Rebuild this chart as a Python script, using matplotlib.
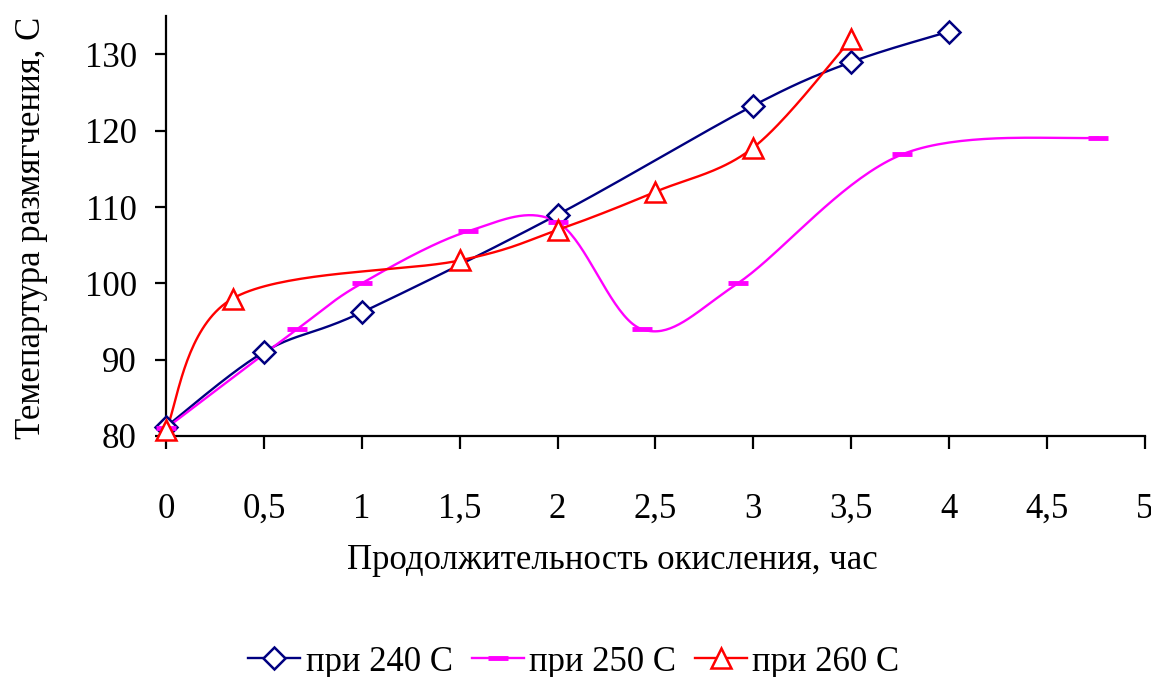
import numpy as np
import matplotlib
matplotlib.use("Agg")
import matplotlib.pyplot as plt
from matplotlib.ticker import MultipleLocator, FuncFormatter
from matplotlib.lines import Line2D

# данные
t_240 = [0, 0.5, 1, 2, 3, 3.5, 4]
temp_240 = [81.2, 91.0, 96.2, 109.0, 123.3, 129.0, 133.0]

t_250 = [0, 0.67, 1.0, 1.54, 2.0, 2.43, 2.92, 3.76, 4.76]
temp_250 = [81.0, 94.0, 100.0, 106.8, 108.0, 94.0, 100.0, 116.9, 119.1]

t_260 = [0, 0.34, 1.5, 2.0, 2.5, 3.0, 3.5]
temp_260 = [80.8, 98.0, 103.0, 107.0, 112.0, 117.8, 132.0]

labels = ["при 240 С", "при 250 С", "при 260 С"]
colors = ["#000080", "#FF00FF", "#FF0000"]


def smooth(x, y, n=40):
    # сглаживание как в Excel (кубические Безье, Catmull-Rom)
    p = np.column_stack([x, y]).astype(float)
    ext = np.vstack([p[0], p, p[-1]])
    out = [p[0]]
    s = np.linspace(0, 1, n)[1:, None]
    for i in range(len(p) - 1):
        p0, p1 = ext[i + 1], ext[i + 2]
        c1 = p0 + (ext[i + 2] - ext[i]) / 6
        c2 = p1 - (ext[i + 3] - ext[i + 1]) / 6
        seg = (1 - s) ** 3 * p0 + 3 * (1 - s) ** 2 * s * c1 + 3 * (1 - s) * s ** 2 * c2 + s ** 3 * p1
        out.extend(seg)
    out = np.array(out)
    return out[:, 0], out[:, 1]


plt.rcParams["font.family"] = ["Liberation Serif", "DejaVu Serif"]
plt.rcParams["font.size"] = 25

fig = plt.figure(figsize=(11.51, 6.77), dpi=100)
ax = fig.add_axes([0.1442, 0.356, 0.8506, 0.62])

series = [(t_240, temp_240, "D", dict(markersize=11, markerfacecolor="white", markeredgewidth=1.8)),
          (t_250, temp_250, "_", dict(markersize=14, markeredgewidth=3.5)),
          (t_260, temp_260, "^", dict(markersize=14, markerfacecolor="white", markeredgewidth=1.8))]

handles = []
for (x, y, m, mk), c, lab in zip(series, colors, labels):
    sx, sy = smooth(x, y)
    ax.plot(sx, sy, color=c, lw=1.7, zorder=2)
    ax.plot(x, y, linestyle="none", marker=m, color=c, zorder=3, clip_on=False, **mk)
    handles.append(Line2D([0], [0], color=c, lw=1.7, marker=m, **mk))

ax.set_xlim(0, 5)
ax.set_ylim(80, 135)
ax.xaxis.set_major_locator(MultipleLocator(0.5))
ax.xaxis.set_major_formatter(FuncFormatter(lambda v, p: f"{v:g}".replace(".", ",")))
ax.set_yticks([80, 90, 100, 110, 120, 130])

for side in ["top", "right"]:
    ax.spines[side].set_visible(False)
for side in ["left", "bottom"]:
    ax.spines[side].set_linewidth(1.6)

ax.tick_params(axis="x", direction="out", length=9, width=1.6, pad=32)
ax.tick_params(axis="y", direction="out", length=8, width=1.6, pad=13)

ax.set_xlabel("Продолжительность окисления, час")
ax.set_ylabel("Темепартура размягчения, С")
ax.xaxis.set_label_coords(0.456, -0.257)
ax.yaxis.set_label_coords(-0.121, 0.495)

fig.legend(handles=handles, labels=labels, loc="center", bbox_to_anchor=(0.4987, 0.022),
           ncol=3, frameon=False, handlelength=1.5, handletextpad=0.15, columnspacing=0.55,
           borderaxespad=0, borderpad=0)

fig.savefig("out.png", dpi=100)
